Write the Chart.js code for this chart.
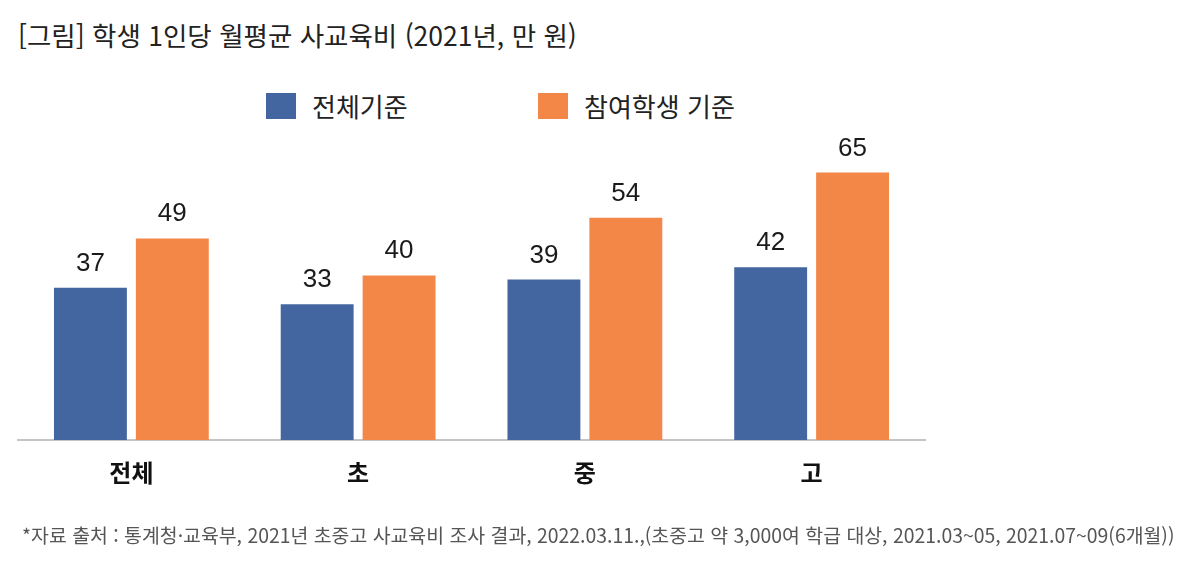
<!DOCTYPE html>
<html lang="ko">
<head>
<meta charset="utf-8">
<title>학생 1인당 월평균 사교육비</title>
<script src="https://cdn.jsdelivr.net/npm/chart.js@4/dist/chart.umd.min.js"></script>
<style>
  html, body { margin: 0; padding: 0; background: #fff; }
  body { width: 1202px; height: 572px; position: relative; overflow: hidden;
         font-family: "Noto Sans CJK KR", "Noto Sans", sans-serif; color: #222; }
  #title { position: absolute; left: 18px; top: 15px; font-size: 26.5px; white-space: nowrap; }
  #legend { position: absolute; top: 87px; left: 0; height: 34px; }
  .legend-item { position: absolute; top: 0; display: flex; align-items: center; white-space: nowrap;
                 font-size: 26px; color: #222; }
  .legend-box { width: 30px; height: 26px; margin-right: 16px; }
  #note { position: absolute; left: 22px; top: 520px; font-size: 19.4px; color: #555; white-space: nowrap; }
  #chart { position: absolute; left: 0; top: 0; }
</style>
</head>
<body>
<div id="title">[그림] 학생 1인당 월평균 사교육비 (2021년, 만 원)</div>
<div id="legend"></div>
<canvas id="chart" width="1202" height="572"></canvas>
<div id="note">*자료 출처 : 통계청·교육부, 2021년 초중고 사교육비 조사 결과, 2022.03.11.,(초중고 약 3,000여 학급 대상, 2021.03~05, 2021.07~09(6개월))</div>
<script>
// categories and values (만 원)
const categories = ['전체', '초', '중', '고'];
const seriesNames = ['전체기준', '참여학생 기준'];
const allStudents = [37, 33, 39, 42];
const participants = [49, 40, 54, 65];
const seriesColors = ['#4366a0', '#f28748'];

// legend drawn as html, positioned like the original
const legendLeft = [266, 538];
const legendEl = document.getElementById('legend');
seriesNames.forEach((name, i) => {
  const item = document.createElement('div');
  item.className = 'legend-item';
  item.style.left = legendLeft[i] + 'px';
  item.innerHTML = `<span class="legend-box" style="background:${seriesColors[i]}"></span>${name}`;
  legendEl.appendChild(item);
});

// value labels above each bar
const valueLabels = {
  id: 'valueLabels',
  afterDatasetsDraw(chart) {
    const { ctx } = chart;
    ctx.save();
    ctx.font = '26px "Liberation Sans", Arial, sans-serif';
    ctx.fillStyle = '#1a1a1a';
    ctx.textAlign = 'center';
    ctx.textBaseline = 'alphabetic';
    chart.data.datasets.forEach((ds, di) => {
      chart.getDatasetMeta(di).data.forEach((bar, i) => {
        ctx.fillText(ds.data[i], bar.x, bar.y - 17);
      });
    });
    ctx.restore();
  }
};

new Chart(document.getElementById('chart'), {
  type: 'bar',
  data: {
    labels: categories,
    datasets: [
      { label: seriesNames[0], data: allStudents, backgroundColor: seriesColors[0] },
      { label: seriesNames[1], data: participants, backgroundColor: seriesColors[1] }
    ]
  },
  options: {
    responsive: false,
    animation: false,
    categoryPercentage: 0.7225,
    barPercentage: 0.89,
    layout: { padding: { left: 18, right: 277, top: 152, bottom: 0 } },
    plugins: {
      legend: { display: false },
      tooltip: { enabled: false }
    },
    scales: {
      x: {
        grid: { display: false, drawTicks: false },
        border: { display: true, color: '#c4c4c4', width: 2 },
        ticks: {
          color: '#111',
          padding: 18,
          font: { family: '"Noto Sans CJK KR", sans-serif', size: 24, weight: 'bold' }
        },
        afterFit(scale) { scale.height = 132; }
      },
      y: {
        display: false,
        min: 0,
        max: 70
      }
    }
  },
  plugins: [valueLabels]
});
</script>
</body>
</html>
